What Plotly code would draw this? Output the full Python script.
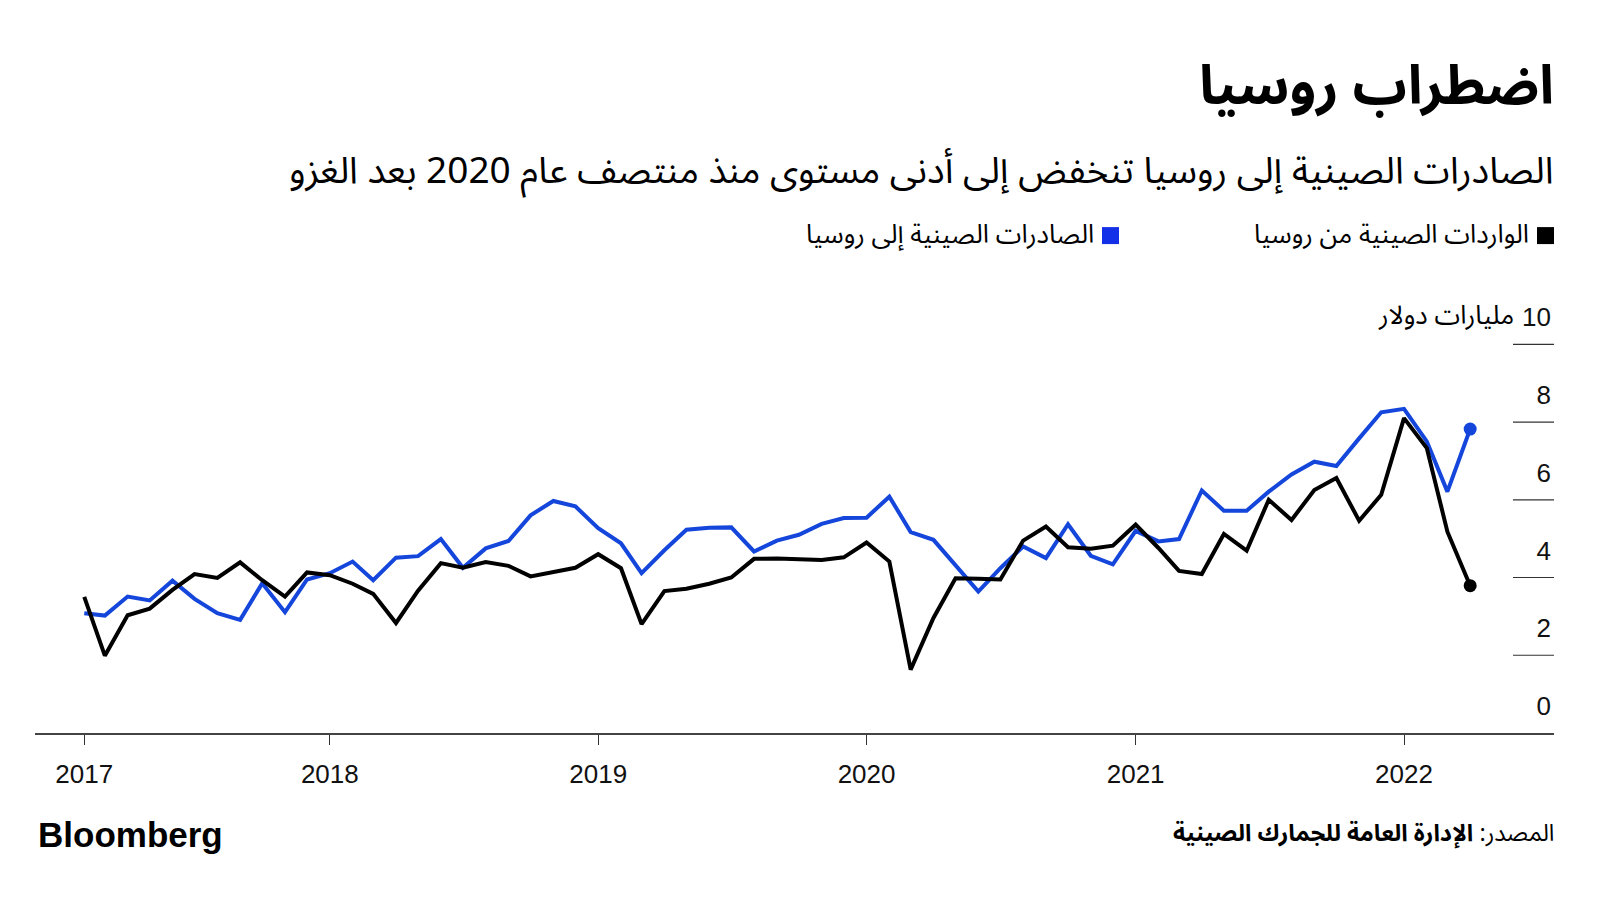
import pandas as pd
import plotly.graph_objects as go

# ---------------- data ----------------
months = pd.date_range("2017-02-01", "2022-04-01", freq="MS")

imports_from_russia = [
    3.50, 1.99, 3.03, 3.20, 3.68, 4.09, 3.99, 4.39, 3.93, 3.51, 4.13,
    4.06, 3.84, 3.58, 2.83, 3.66, 4.37, 4.25, 4.40, 4.30, 4.03, 4.15, 4.25,
    4.60, 4.24, 2.80, 3.65, 3.71, 3.84, 4.00, 4.48, 4.49, 4.48, 4.45, 4.52,
    4.90, 4.41, 1.63, 2.96, 3.98, 3.97, 3.95, 4.95, 5.31, 4.78, 4.74, 4.82,
    5.36, 4.76, 4.17, 4.09, 5.12, 4.69, 6.00, 5.48, 6.25, 6.56, 5.46, 6.13,
    8.10, 7.33, 5.18, 3.79,
]
exports_to_russia = [
    3.08, 3.02, 3.51, 3.41, 3.92, 3.45, 3.08, 2.91, 3.85, 3.11, 3.95,
    4.11, 4.41, 3.93, 4.51, 4.55, 4.99, 4.25, 4.75, 4.94, 5.60, 5.97, 5.83,
    5.27, 4.88, 4.11, 4.70, 5.23, 5.28, 5.29, 4.67, 4.95, 5.10, 5.38, 5.53,
    5.54, 6.08, 5.17, 4.97, 4.32, 3.64, 4.24, 4.80, 4.50, 5.37, 4.56, 4.34,
    5.20, 4.93, 4.99, 6.24, 5.72, 5.72, 6.21, 6.65, 6.98, 6.87, 7.58, 8.25,
    8.34, 7.50, 6.21, 7.82,
]

x_tick_vals = ["2017-02-01", "2018-01-01", "2019-01-01", "2020-01-01", "2021-01-01", "2022-01-01"]
x_tick_text = ["2017", "2018", "2019", "2020", "2021", "2022"]
y_tick_vals = [0, 2, 4, 6, 8, 10]
y_tick_text = ["0", "2", "4", "6", "8", "10"]

title_text = "اضطراب روسيا"
subtitle_text = "الصادرات الصينية إلى روسيا تنخفض إلى أدنى مستوى منذ منتصف عام 2020 بعد الغزو"
legend_imports = "الواردات الصينية من روسيا"
legend_exports = "الصادرات الصينية إلى روسيا"
unit_text = "مليارات دولار"
source_label = "المصدر:"
source_text = "الإدارة العامة للجمارك الصينية"

BLUE = "#1446dc"
BLUE_SQ = "#1330e8"
BLACK = "#000000"
AR_FONT = "Noto Sans Arabic, Noto Kufi Arabic, DejaVu Sans, sans-serif"
NUM_FONT = "Liberation Sans, Arial, sans-serif"

# ---------------- geometry helpers ----------------
W, H = 1600, 900
L, R, B = 35, 1554, 733.3
UNIT_PX = 38.9          # pixels per 1 unit on the value axis
Y_MAX = 11.5            # axis range top (room for the shifted "10" label)
T = B - Y_MAX * UNIT_PX


def px(x):
    return (x - L) / (R - L)


def py(y):
    return (B - y) / (B - T)


fig = go.Figure()

fig.add_trace(go.Scatter(
    x=months, y=exports_to_russia, mode="lines",
    line=dict(color=BLUE, width=4), name=legend_exports,
    hoverinfo="x+y",
))
fig.add_trace(go.Scatter(
    x=months, y=imports_from_russia, mode="lines",
    line=dict(color=BLACK, width=4), name=legend_imports,
    hoverinfo="x+y",
))
# end dots
fig.add_trace(go.Scatter(
    x=[months[-1]], y=[exports_to_russia[-1]], mode="markers",
    marker=dict(color=BLUE, size=13), cliponaxis=False, hoverinfo="skip",
))
fig.add_trace(go.Scatter(
    x=[months[-1]], y=[imports_from_russia[-1]], mode="markers",
    marker=dict(color=BLACK, size=13), cliponaxis=False, hoverinfo="skip",
))

shapes = []
# short gridline segments at right
for v in y_tick_vals[1:]:
    shapes.append(dict(type="line", xref="paper", yref="y",
                       x0=px(1513), x1=1, y0=v, y1=v,
                       line=dict(color="#333333", width=1.2)))
# legend squares
shapes.append(dict(type="rect", xref="paper", yref="paper",
                   x0=px(1537), x1=px(1554), y0=py(244), y1=py(227),
                   fillcolor=BLACK, line=dict(width=0)))
shapes.append(dict(type="rect", xref="paper", yref="paper",
                   x0=px(1102), x1=px(1119), y0=py(244), y1=py(227),
                   fillcolor=BLUE_SQ, line=dict(width=0)))

annotations = [
    dict(text="<b>" + title_text + "</b>", xref="paper", yref="paper",
         x=px(1556), y=py(87), xanchor="right", yanchor="middle",
         showarrow=False, font=dict(family=AR_FONT, size=54, color="#000")),
    dict(text=subtitle_text, xref="paper", yref="paper",
         x=px(1556), y=py(171), xanchor="right", yanchor="middle",
         showarrow=False, font=dict(family=AR_FONT, size=37, color="#000")),
    dict(text=legend_imports, xref="paper", yref="paper",
         x=px(1531), y=py(234), xanchor="right", yanchor="middle",
         showarrow=False, font=dict(family=AR_FONT, size=26, color="#000")),
    dict(text=legend_exports, xref="paper", yref="paper",
         x=px(1096), y=py(234), xanchor="right", yanchor="middle",
         showarrow=False, font=dict(family=AR_FONT, size=26, color="#000")),
    dict(text=unit_text, xref="paper", yref="y",
         x=1, y=10, xshift=-(1554 - 1516), yshift=29,
         xanchor="right", yanchor="middle",
         showarrow=False, font=dict(family=AR_FONT, size=26, color="#000")),
    dict(text="<b>Bloomberg</b>", xref="paper", yref="paper",
         x=px(36), y=py(835), xanchor="left", yanchor="middle",
         showarrow=False, font=dict(family=NUM_FONT, size=35, color="#000")),
    dict(text=source_label + " <b>" + source_text + "</b>", xref="paper", yref="paper",
         x=px(1556), y=py(834), xanchor="right", yanchor="middle",
         showarrow=False, font=dict(family=AR_FONT, size=23.5, color="#000")),
]

fig.update_layout(
    width=W, height=H,
    margin=dict(l=L, r=W - R, t=T, b=H - B, pad=0),
    paper_bgcolor="white", plot_bgcolor="white",
    showlegend=False,
    shapes=shapes, annotations=annotations,
    xaxis=dict(
        type="date", range=["2016-11-26", "2022-07-24"],
        tickvals=x_tick_vals, ticktext=x_tick_text,
        ticks="outside", ticklen=10, tickwidth=1, tickcolor="#333333",
        showline=True, linecolor="#444444", linewidth=2,
        showgrid=False, zeroline=False,
        tickfont=dict(family=NUM_FONT, size=26, color="#111"),
        ticklabelstandoff=7,
    ),
    yaxis=dict(
        range=[0, Y_MAX], side="right",
        tickvals=y_tick_vals, ticktext=y_tick_text,
        ticklabelposition="inside", ticks="", ticklabelshift=-27,
        showgrid=False, zeroline=False, showline=False,
        tickfont=dict(family=NUM_FONT, size=26, color="#111"),
    ),
)

fig.write_html("out.html", config={"displayModeBar": False},
               post_script="document.body.style.margin='0';")
